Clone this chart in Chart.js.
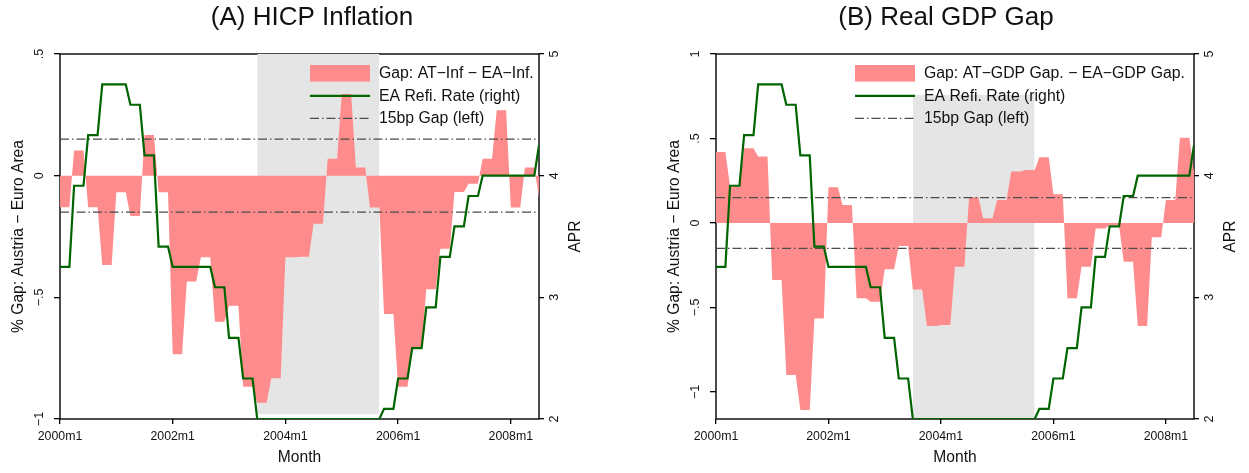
<!DOCTYPE html>
<html>
<head>
<meta charset="utf-8">
<script src="https://cdn.jsdelivr.net/npm/chart.js@4.4.1/dist/chart.umd.min.js"></script>
<style>
  html, body { margin: 0; padding: 0; background: #fff; }
  #wrap { position: relative; width: 1249px; height: 473px; }
  .panel { position: absolute; top: 0; }
  #panel-a { left: 0; }
  #panel-b { left: 624px; }
</style>
</head>
<body>
<div id="wrap">
  <div class="panel" id="panel-a"><canvas id="chart-a" width="624" height="473"></canvas></div>
  <div class="panel" id="panel-b"><canvas id="chart-b" width="625" height="473"></canvas></div>
</div>
<script>
/**
 * Austria vs Euro Area gaps against the ECB refi rate, 2000m1 - 2008m7
 * Quarterly values, each held over the months of its quarter (2000Q1 .. 2008Q3)
 */

// EA main refinancing rate, quarterly average (APR)
const refiRate = [
  3.25, 3.917, 4.333, 4.75,
  4.75, 4.583, 4.167, 3.417,
  3.25, 3.25, 3.25, 3.083,
  2.667, 2.333, 2.0, 2.0,
  2.0, 2.0, 2.0, 2.0,
  2.0, 2.0, 2.0, 2.083,
  2.333, 2.583, 2.917, 3.333,
  3.583, 3.833, 4.0, 4.0,
  4.0, 4.0, 4.25,
];

// (A) HICP inflation gap, AT - EA (%)
const gapInflation = [
  -0.13, 0.103, -0.13, -0.367,
  -0.068, -0.166, 0.167, -0.068,
  -0.734, -0.435, -0.335, -0.6,
  -0.535, -0.867, -0.933, -0.833,
  -0.335, -0.333, -0.198, 0.07,
  0.336, 0.034, -0.131, -0.568,
  -0.867, -0.705, -0.467, -0.3,
  -0.067, -0.033, 0.07, 0.269,
  -0.131, 0.034, -0.09,
];

// (B) real GDP gap, AT - EA (%)
const gapGdp = [
  0.42, 0.215, 0.442, 0.393,
  -0.337, -0.9, -1.107, -0.565,
  0.211, 0.107, -0.446, -0.466,
  -0.274, -0.136, -0.393, -0.61,
  -0.604, -0.259, 0.152, 0.028,
  0.136, 0.304, 0.314, 0.389,
  0.17, -0.446, -0.259, -0.032,
  -0.012, -0.229, -0.61, -0.085,
  0.136, 0.505, 0.3,
];

const lastMonth = 102; // 2008m7, months counted from 2000m1
const band = 0.15; // 15bp gap

const xTickMonths = [0, 24, 48, 72, 96];
const xTickLabels = ['2000m1', '2002m1', '2004m1', '2006m1', '2008m1'];

const yTicksA = [-1, -0.5, 0, 0.5];
const yTickLabelsA = ['\u22121', '\u2212.5', '0', '.5'];
const yTicksB = [-1, -0.5, 0, 0.5, 1];
const yTickLabelsB = ['\u22121', '\u2212.5', '0', '.5', '1'];
const rateTicks = [2, 3, 4, 5];
const rateTickLabels = ['2', '3', '4', '5'];

// shaded period (rate at its 2% floor): [bottom, top] on the left axis
const shadeA = [-0.98, 0.5];
const shadeB = [-1.16, 0.758];

const FONT = '"Liberation Sans", Arial, Helvetica, sans-serif';
const RED = 'rgb(255, 140, 140)';
const GREEN = 'rgb(0, 100, 0)';
const GREY = 'rgb(229, 229, 229)';
const DASH = 'rgb(75, 75, 75)';
const INK = '#111';
const DASH_PATTERN = [9, 3, 1.5, 3];

Chart.defaults.font.family = FONT;

function toMonthly(quarterly) {
  const out = [];
  for (let m = 0; m <= lastMonth; m++) {
    out.push({ x: m, y: quarterly[Math.floor(m / 3)] });
  }
  return out;
}

/**
 * Frame, rotated y labels, titles and legend (Stata look)
 */
const decor = {
  id: 'decor',
  beforeDatasetsDraw(chart) {
    const { ctx, chartArea: a } = chart;
    ctx.save();
    ctx.strokeStyle = '#000';
    ctx.lineWidth = 1.4;
    ctx.strokeRect(a.left, a.top, a.right - a.left, a.bottom - a.top);
    ctx.restore();
  },
  afterDraw(chart, args, o) {
    const { ctx, chartArea: a } = chart;
    const midY = (a.top + a.bottom) / 2;

    const vtext = (txt, x, y, size) => {
      ctx.save();
      ctx.translate(x, y);
      ctx.rotate(-Math.PI / 2);
      ctx.font = `${size}px ${FONT}`;
      ctx.fillStyle = INK;
      ctx.textAlign = 'center';
      ctx.textBaseline = 'middle';
      ctx.fillText(txt, 0, 0);
      ctx.restore();
    };

    // y tick labels, both axes
    const yL = chart.scales.y;
    const yR = chart.scales.y1;
    yL.ticks.forEach((t) => vtext(t.label, a.left - 20.5, yL.getPixelForValue(t.value), 12.5));
    yR.ticks.forEach((t) => vtext(t.label, a.right + 15.5, yR.getPixelForValue(t.value), 12.5));

    // axis titles
    vtext('% Gap: Austria \u2212 Euro Area', a.left - 41.5, midY, 15.6);
    vtext('APR', a.right + 36.5, midY, 15.6);

    ctx.save();
    ctx.fillStyle = INK;

    // panel title
    ctx.font = `${o.titleSize}px ${FONT}`;
    ctx.textAlign = 'center';
    ctx.textBaseline = 'middle';
    ctx.fillText(o.title, o.titleX, 18);

    // legend
    const items = chart.data.datasets
      .filter((d) => d.legendKind)
      .sort((p, q) => p.legendRank - q.legendRank);
    const left = a.left + o.legendLeft;
    ctx.font = `15.8px ${FONT}`;
    ctx.textAlign = 'left';
    items.forEach((d, i) => {
      const y = a.top + 19.3 + i * 22.5;
      if (d.legendKind === 'box') {
        ctx.fillStyle = d.backgroundColor;
        ctx.fillRect(left, y - 8.3, 60, 16.6);
      } else {
        ctx.save();
        ctx.strokeStyle = d.borderColor;
        ctx.lineWidth = d.borderWidth;
        ctx.setLineDash(d.borderDash || []);
        ctx.beginPath();
        ctx.moveTo(left, y);
        ctx.lineTo(left + 60, y);
        ctx.stroke();
        ctx.restore();
      }
      ctx.fillStyle = INK;
      ctx.fillText(d.label, left + 69, y + 0.5);
    });
    ctx.restore();
  },
};

function panelDatasets(gap, gapLabel, shade) {
  const rate = toMonthly(refiRate);
  const floorMonths = rate.filter((p) => p.y === 2).map((p) => p.x);

  return [
    {
      label: 'EA Refi. Rate (right)',
      data: rate,
      yAxisID: 'y1',
      borderColor: GREEN,
      borderWidth: 2.2,
      order: 0,
      legendKind: 'line',
      legendRank: 1,
    },
    {
      label: '15bp Gap (left)',
      data: [{ x: 0, y: band }, { x: lastMonth, y: band }],
      yAxisID: 'y',
      borderColor: DASH,
      borderWidth: 1.3,
      borderDash: DASH_PATTERN,
      order: 1,
      legendKind: 'dash',
      legendRank: 2,
    },
    {
      label: '15bp Gap (left)',
      data: [{ x: 0, y: -band }, { x: lastMonth, y: -band }],
      yAxisID: 'y',
      borderColor: DASH,
      borderWidth: 1.3,
      borderDash: DASH_PATTERN,
      order: 1,
    },
    {
      label: gapLabel,
      data: toMonthly(gap),
      yAxisID: 'y',
      fill: 'origin',
      backgroundColor: RED,
      borderColor: 'rgba(0,0,0,0)',
      borderWidth: 1,
      order: 2,
      legendKind: 'box',
      legendRank: 0,
    },
    {
      label: 'shade',
      data: [
        { x: floorMonths[0], y: shade[1] },
        { x: floorMonths[floorMonths.length - 1], y: shade[1] },
      ],
      yAxisID: 'y',
      fill: { value: shade[0] },
      backgroundColor: GREY,
      borderColor: 'rgba(0,0,0,0)',
      borderWidth: 1,
      order: 3,
    },
  ];
}

function makePanel(canvasId, cfg) {
  const tickFont = { size: 12.3, family: FONT };
  return new Chart(document.getElementById(canvasId), {
    type: 'line',
    data: { datasets: panelDatasets(cfg.gap, cfg.gapLabel, cfg.shade) },
    options: {
      responsive: false,
      animation: false,
      events: [],
      layout: { padding: { top: 54, left: 0, right: 0, bottom: 0 }, autoPadding: false },
      elements: { point: { radius: 0 }, line: { tension: 0 } },
      plugins: {
        legend: { display: false },
        tooltip: { enabled: false },
        decor: {
          title: cfg.title,
          titleX: cfg.titleX,
          titleSize: 26,
          legendLeft: cfg.legendLeft,
        },
      },
      scales: {
        x: {
          type: 'linear',
          min: 0,
          max: lastMonth,
          afterBuildTicks: (s) => { s.ticks = xTickMonths.map((v) => ({ value: v })); },
          afterFit: (s) => { s.height = 54; },
          ticks: {
            callback: (v, i) => xTickLabels[i],
            color: INK,
            font: tickFont,
            padding: 5.5,
            maxRotation: 0,
            autoSkip: false,
          },
          grid: { drawOnChartArea: false, drawTicks: true, tickLength: 5, color: '#000', lineWidth: 1.3 },
          border: { display: false },
          title: {
            display: true,
            text: 'Month',
            color: INK,
            font: { size: 15.6, family: FONT },
            padding: { top: 0, bottom: 6 },
          },
        },
        y: {
          type: 'linear',
          position: 'left',
          min: cfg.yMin,
          max: cfg.yMax,
          afterBuildTicks: (s) => { s.ticks = cfg.yTicks.map((v) => ({ value: v })); },
          afterFit: (s) => { s.width = cfg.leftWidth; },
          ticks: { display: false, callback: (v, i) => cfg.yTickLabels[i] },
          grid: { drawOnChartArea: false, drawTicks: true, tickLength: 6, color: '#000', lineWidth: 1.3 },
          border: { display: false },
        },
        y1: {
          type: 'linear',
          position: 'right',
          min: 2,
          max: 5,
          afterBuildTicks: (s) => { s.ticks = rateTicks.map((v) => ({ value: v })); },
          afterFit: (s) => { s.width = cfg.rightWidth; },
          ticks: { display: false, callback: (v, i) => rateTickLabels[i] },
          grid: { drawOnChartArea: false, drawTicks: true, tickLength: 5, color: '#000', lineWidth: 1.3 },
          border: { display: false },
        },
      },
    },
    plugins: [decor],
  });
}

makePanel('chart-a', {
  title: '(A) HICP Inflation',
  titleX: 312,
  gap: gapInflation,
  gapLabel: 'Gap: AT\u2212Inf \u2212 EA\u2212Inf.',
  shade: shadeA,
  yMin: -1,
  yMax: 0.5,
  yTicks: yTicksA,
  yTickLabels: yTickLabelsA,
  leftWidth: 60,
  rightWidth: 85,
  legendLeft: 250,
});

makePanel('chart-b', {
  title: '(B) Real GDP Gap',
  titleX: 322,
  gap: gapGdp,
  gapLabel: 'Gap: AT\u2212GDP Gap. \u2212 EA\u2212GDP Gap.',
  shade: shadeB,
  yMin: -1.16,
  yMax: 1,
  yTicks: yTicksB,
  yTickLabels: yTickLabelsB,
  leftWidth: 92,
  rightWidth: 55,
  legendLeft: 139,
});
</script>
</body>
</html>
